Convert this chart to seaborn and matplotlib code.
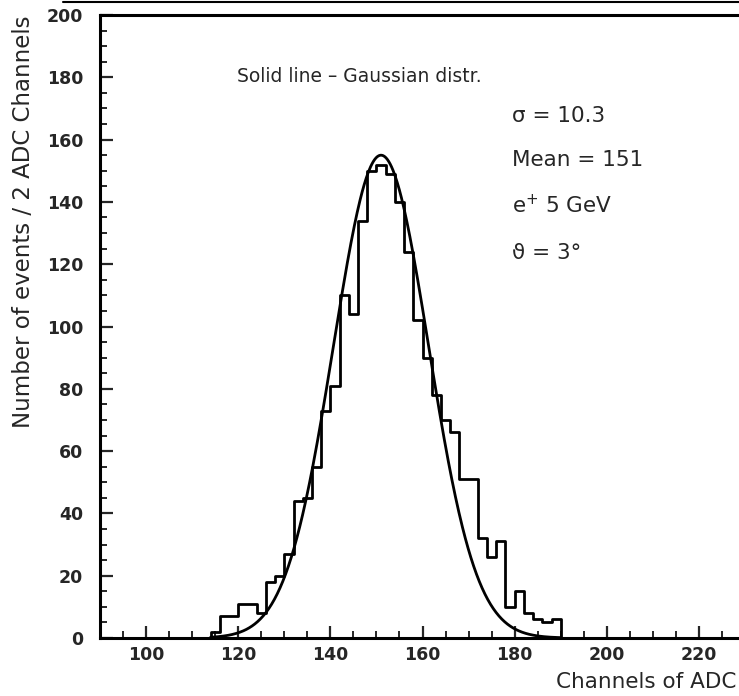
import numpy as np
import pandas as pd
import matplotlib
matplotlib.use("Agg")
import matplotlib.pyplot as plt
import seaborn as sns
from matplotlib.ticker import MultipleLocator
from matplotlib.lines import Line2D

# ---------------- data ----------------
bin_left = [114, 116, 118, 120, 122, 124, 126, 128, 130, 132, 134, 136, 138,
            140, 142, 144, 146, 148, 150, 152, 154, 156, 158, 160, 162, 164,
            166, 168, 170, 172, 174, 176, 178, 180, 182, 184, 186, 188]
counts = [2, 7, 7, 11, 11, 8, 18, 20, 27, 44, 45, 55, 73,
          81, 110, 104, 134, 150, 152, 149, 140, 124, 102, 90, 78, 70,
          66, 51, 51, 32, 26, 31, 10, 15, 8, 6, 5, 6]
bin_width = 2
fit_amplitude = 155
fit_mean = 151
fit_sigma = 10.3

x_ticks_labels = [100, 120, 140, 160, 180, 200, 220]
y_ticks_labels = [0, 20, 40, 60, 80, 100, 120, 140, 160, 180, 200]

# ---------------- style ----------------
sns.set_style("ticks")
plt.rcParams["font.family"] = ["DejaVu Sans"]

W, H = 739, 696
fig = plt.figure(figsize=(W / 100, H / 100), dpi=100)
ax = fig.add_axes([100 / W, 58 / H, 645 / W, 623 / H])

df = pd.DataFrame({"channel": np.array(bin_left) + bin_width / 2, "count": counts})
edges = list(bin_left) + [bin_left[-1] + bin_width]
sns.histplot(data=df, x="channel", weights="count", bins=edges,
             element="step", fill=True, color="black", alpha=1.0, ax=ax)
for coll in ax.collections:
    coll.set_facecolor("none")
    coll.set_edgecolor("black")
    coll.set_linewidth(2.0)

xs = np.linspace(bin_left[0], edges[-1], 500)
ys = fit_amplitude * np.exp(-0.5 * ((xs - fit_mean) / fit_sigma) ** 2)
sns.lineplot(x=xs, y=ys, color="black", linewidth=2.0, ax=ax)

ax.set_xlim(90, 230)
ax.set_ylim(0, 200)
ax.set_xticks(x_ticks_labels)
ax.set_yticks(y_ticks_labels)
ax.xaxis.set_minor_locator(MultipleLocator(5))
ax.yaxis.set_minor_locator(MultipleLocator(5))
ax.tick_params(which="major", direction="in", length=9, width=1.6,
               labelsize=12.5, top=False, right=False)
ax.tick_params(which="minor", direction="in", length=5, width=1.4,
               top=False, right=False)
ax.tick_params(axis="y", pad=12)
ax.tick_params(axis="x", pad=6)
for lab in ax.get_xticklabels() + ax.get_yticklabels():
    lab.set_fontweight("bold")

for side in ["left", "bottom", "top"]:
    ax.spines[side].set_linewidth(2.2)
    ax.spines[side].set_color("black")
ax.spines["right"].set_visible(False)

ax.set_xlabel("")
ax.set_ylabel("")
fig.text(1 - 3 / W, 1 - 682 / H, "Channels of ADC",
         ha="right", va="center", fontsize=15.5)
ax.text(-0.118, 1.0, "Number of events / 2 ADC Channels", transform=ax.transAxes,
        rotation=90, ha="center", va="top", fontsize=16.5)

fs = 15.5
ax.text(119.7, 178.5, "Solid line \u2013 Gaussian distr.", fontsize=13.5, va="baseline")
ax.text(179.4, 165.6, "\u03c3 = 10.3", fontsize=fs, va="baseline")
ax.text(179.4, 151.4, "Mean = 151", fontsize=fs, va="baseline")
ax.text(179.4, 136.4, "e$^{+}$ 5 GeV", fontsize=fs, va="baseline")
ax.text(179.4, 121.7, "\u03d1 = 3\u00b0", fontsize=fs, va="baseline")

fig.add_artist(Line2D([63 / W, 1.0], [1 - 2 / H, 1 - 2 / H],
                      color="black", linewidth=1.5))

fig.savefig("out.png", dpi=100, facecolor="white")
